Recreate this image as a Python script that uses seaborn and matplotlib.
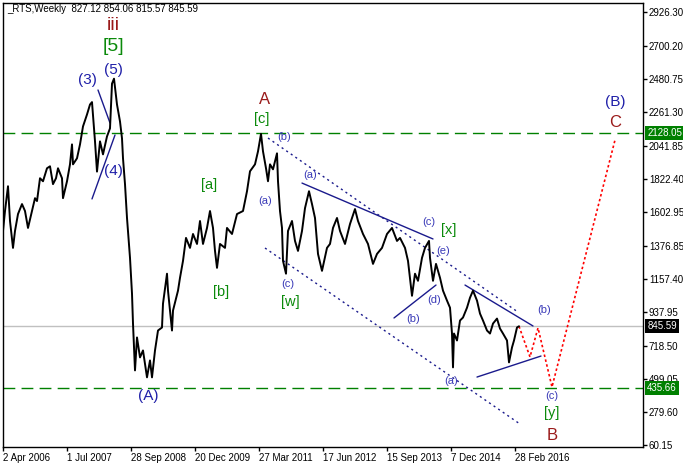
import numpy as np
import pandas as pd
import matplotlib
matplotlib.use("Agg")
import matplotlib.pyplot as plt
import matplotlib.transforms as mtransforms
import seaborn as sns

# ─────────────────────────────────────────
# 1. DATA
# ─────────────────────────────────────────

# bar index (one weekly bar per step) and closing price
bar_idx = [
    0, 2, 5, 7, 10, 12, 15, 19, 22, 25,
    29, 32, 34, 37, 40, 44, 47, 50, 53, 55,
    59, 60, 64, 67, 69, 70, 74, 77, 80, 84,
    87, 89, 92, 94, 97, 100, 104, 107, 109, 111,
    114, 117, 119, 120, 122, 124, 127, 129, 130, 132,
    134, 137, 140, 144, 147, 149, 152, 155, 159, 160,
    164, 165, 169, 170, 175, 177, 180, 183, 187, 190,
    194, 197, 200, 204, 207, 210, 212, 214, 217, 222,
    224, 229, 234, 240, 244, 247, 252, 255, 258, 260,
    263, 265, 267, 270, 274, 275, 277, 279, 280, 283,
    285, 289, 292, 295, 299, 302, 306, 309, 312, 315,
    319, 324, 327, 330, 334, 337, 342, 347, 352, 355,
    360, 365, 370, 374, 379, 384, 389, 394, 397, 402,
    405, 409, 412, 415, 419, 422, 426, 427, 430, 433,
    437, 440, 444, 447, 449, 450, 451, 454, 457, 460,
    464, 467, 470, 474, 477, 480, 484, 487, 490, 494,
    497, 500, 504, 506, 509, 511, 514, 516,
]
close = [
    1477, 1609, 1773, 1543, 1365, 1477, 1589, 1655, 1609, 1497,
    1609, 1694, 1675, 1826, 1806, 1892, 1905, 1787, 1826, 1892,
    1826, 1694, 1806, 1918, 2050, 1918, 1958, 2050, 2169, 2248,
    2314, 2330, 2070, 1870, 2070, 1984, 2103, 2156, 2452, 2485,
    2314, 2202, 2090, 1958, 1787, 1563, 1299, 1062, 864, 554,
    772, 640, 686, 508, 620, 508, 686, 818, 838, 996,
    1194, 1082, 818, 950, 1082, 1167, 1279, 1431, 1365, 1457,
    1391, 1543, 1391, 1497, 1609, 1497, 1345, 1233, 1391, 1365,
    1497, 1457, 1589, 1609, 1740, 1872, 1918, 2004, 2120, 2004,
    1892, 1806, 1918, 1885, 1991, 1806, 1609, 1497, 1279, 1194,
    1477, 1543, 1411, 1345, 1477, 1628, 1740, 1655, 1563, 1325,
    1213, 1365, 1391, 1497, 1563, 1477, 1391, 1523, 1622, 1543,
    1457, 1391, 1259, 1325, 1365, 1457, 1497, 1411, 1431, 1365,
    1279, 1048, 1194, 1147, 1299, 1365, 1411, 1299, 1147, 1259,
    1167, 1082, 1016, 969, 798, 574, 798, 752, 884, 904,
    969, 1035, 1082, 1016, 930, 884, 818, 798, 864, 897,
    831, 798, 752, 607, 706, 752, 838, 846,
]

# forecast path (red dotted)
fc_bar = [516, 527, 535, 549, 612]
fc_price = [846, 643, 835, 444, 2079]

# solid navy trendlines: start/end bar and price
trend_bar = [[95, 107], [89, 112], [299, 430], [391, 433], [462, 530], [474, 538]]
trend_price = [[2410, 2192], [1689, 2112], [1794, 1424], [901, 1119], [1119, 848], [510, 649]]

# dotted channel lines
chan_bar = [[265, 515], [262, 517]]
chan_price = [[2092, 940], [1364, 199]]

# horizontal levels
levels = [2128.05, 435.66]
last_price = 845.59

# wave labels
wave_text = ["iii", "[5]", "(5)", "(3)", "(4)", "(A)", "[a]", "[b]", "A", "[c]",
             "(b)", "(a)", "(c)", "[w]", "(a)", "(c)", "[x]", "(e)", "(d)", "(b)",
             "(a)", "(b)", "(c)", "[y]", "B", "(B)", "C"]
wave_bar = [110, 110, 110, 84, 110, 145, 206, 218, 262, 259,
            281, 262, 285, 287, 307, 426, 446, 440, 431, 410,
            448, 541, 549, 549, 549, 612, 612]
wave_price = [2840, 2695, 2543, 2476, 1874, 384, 1781, 1073, 2344, 2218,
              2099, 1675, 1126, 1007, 1847, 1536, 1483, 1344, 1020, 894,
              484, 954, 384, 272, 120, 2331, 2198]
wave_kind = ["red_big", "green_big", "navy", "navy", "navy", "navy", "green", "green", "red", "green",
             "small", "small", "small", "green", "small", "small", "green", "small", "small", "small",
             "small", "small", "small", "green", "red", "navy", "red"]

# axis ticks
date_ticks = [0, 64, 128, 192, 256, 320, 384, 448, 512]
date_labels = ["2 Apr 2006", "1 Jul 2007", "28 Sep 2008", "20 Dec 2009", "27 Mar 2011",
               "17 Jun 2012", "15 Sep 2013", "7 Dec 2014", "28 Feb 2016"]
price_ticks = [60.15, 279.60, 499.05, 718.50, 937.95, 1157.40, 1376.85, 1602.95,
               1822.40, 2041.85, 2261.30, 2480.75, 2700.20, 2926.30]

title = "_RTS,Weekly  827.12 854.06 815.57 845.59"

# ─────────────────────────────────────────
# 2. STYLE
# ─────────────────────────────────────────

sns.set_style("white")
plt.rcParams['font.family'] = ['Liberation Sans', 'DejaVu Sans']

NAVY = "#1f1fa8"
SMALL = "#3a3ab8"
GREEN = "#0b8a0b"
RED = "#9a1a1a"
kind_style = {
    "red_big":   dict(color=RED, fontsize=14),
    "green_big": dict(color=GREEN, fontsize=14),
    "navy":      dict(color=NAVY, fontsize=11),
    "red":       dict(color=RED, fontsize=12),
    "green":     dict(color=GREEN, fontsize=10.5),
    "small":     dict(color=SMALL, fontsize=8),
}
TICK_FS = 7

fig = plt.figure(figsize=(6.83, 4.68), dpi=100)
ax = fig.add_axes([3 / 683, 21 / 468, 640 / 683, 444 / 468])

# ─────────────────────────────────────────
# 3. DRAW
# ─────────────────────────────────────────

ax.axhline(last_price, color="#c0c0c0", lw=1, zorder=1)
for lv in levels:
    ax.axhline(lv, color="#008000", lw=1, dashes=(8.5, 4.5), zorder=1)

price_df = pd.DataFrame({"bar": bar_idx, "close": close})
sns.lineplot(data=price_df, x="bar", y="close", color="black", lw=1.4,
             estimator=None, ax=ax, zorder=3)

for bx, py in zip(trend_bar, trend_price):
    sns.lineplot(x=bx, y=py, color="#1a1a8c", lw=1, estimator=None, ax=ax, zorder=2)
for bx, py in zip(chan_bar, chan_price):
    ax.plot(bx, py, color="#1a1a8c", lw=1, dashes=(1.5, 2.5), zorder=2)

fc_df = pd.DataFrame({"bar": fc_bar, "price": fc_price})
sns.lineplot(data=fc_df, x="bar", y="price", color="red", lw=1.2,
             estimator=None, ax=ax, zorder=2)
ax.lines[-1].set_dashes((1.5, 1.5))

for t, b, p, k in zip(wave_text, wave_bar, wave_price, wave_kind):
    ax.text(b, p, t, ha="center", va="center", **kind_style[k], zorder=4)

ax.text(0.006, 0.986, title, transform=ax.transAxes, fontsize=7,
        ha="left", va="center", color="black")

# ─────────────────────────────────────────
# 4. AXES
# ─────────────────────────────────────────

ax.set_xlim(0, 640)
ax.set_ylim(46.9, 2986)
ax.set_xlabel("")
ax.set_ylabel("")

ax.yaxis.tick_right()
ax.set_yticks(price_ticks)
ax.set_yticklabels([f"{v:.2f}" for v in price_ticks])
ax.set_xticks(date_ticks)
ax.set_xticklabels(date_labels)
for lbl in ax.get_xticklabels():
    lbl.set_ha("left")
ax.tick_params(axis="both", length=3, width=1, color="black", labelsize=TICK_FS,
               labelcolor="black", direction="out", pad=1.2)
ax.tick_params(axis="y", left=False, right=True)
ax.tick_params(axis="x", bottom=True)

for s in ax.spines.values():
    s.set_color("black")
    s.set_linewidth(1)

# price boxes on the right scale
blend = mtransforms.blended_transform_factory(ax.transAxes, ax.transData)
for v, fc in [(levels[0], "#008000"), (last_price, "black"), (levels[1], "#008000")]:
    ax.text(1.0065, v, f"{v:.2f}", transform=blend, ha="left", va="center",
            fontsize=TICK_FS, color="white", clip_on=False, zorder=5,
            bbox=dict(boxstyle="square,pad=0.2", fc=fc, ec="none"))

fig.savefig("out.png", dpi=100)
